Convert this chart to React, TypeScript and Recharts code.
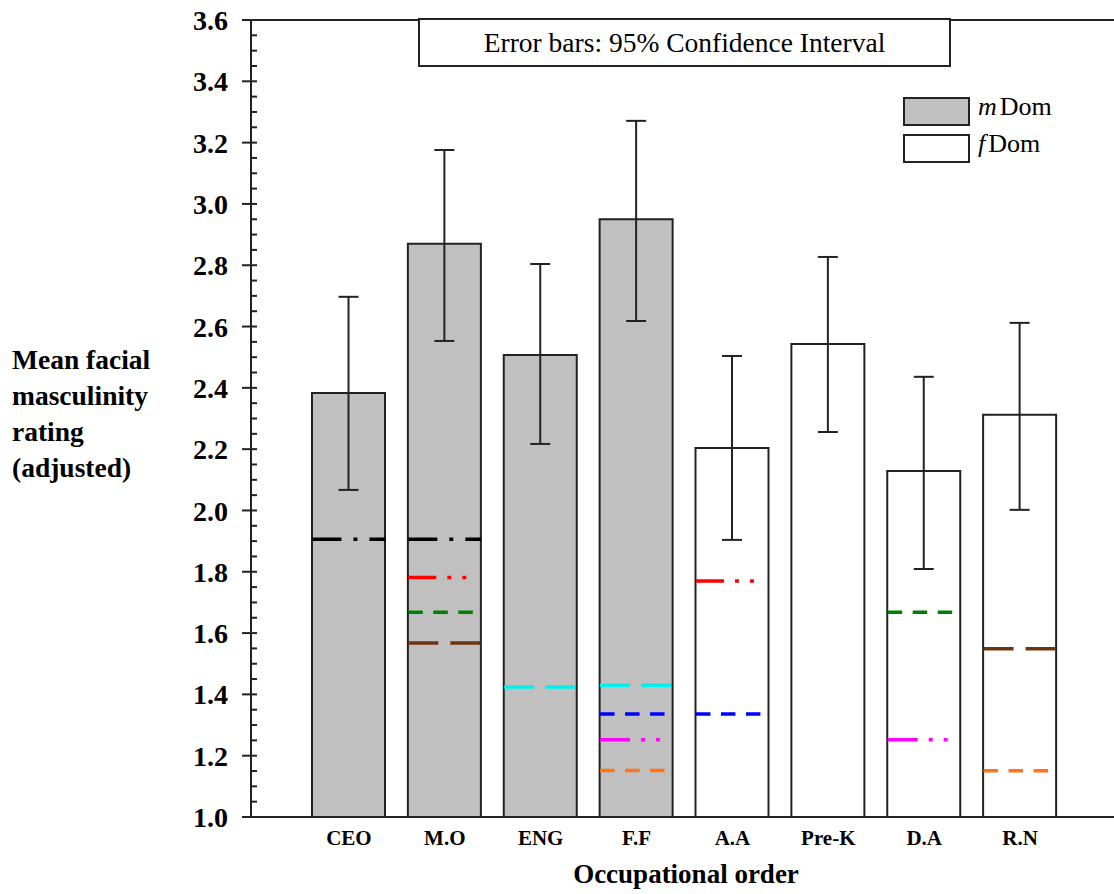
import React from "react";
import {
  Bar,
  Cell,
  ComposedChart,
  ErrorBar,
  ReferenceLine,
  Scatter,
  XAxis,
  YAxis,
} from "recharts";

const categories = ["CEO", "M.O", "ENG", "F.F", "A.A", "Pre-K", "D.A", "R.N"];
const groups = ["m", "m", "m", "m", "f", "f", "f", "f"];
const means = [2.383, 2.87, 2.507, 2.95, 2.204, 2.543, 2.129, 2.312];
const ciLow = [2.067, 2.553, 2.217, 2.618, 1.904, 2.256, 1.809, 2.002];
const ciHigh = [2.697, 3.176, 2.804, 3.271, 2.504, 2.827, 2.436, 2.612];

// horizontal marker lines inside the bars (null = none)
const blackMarks = [1.906, 1.906, null, null, null, null, null, null];
const redMarks = [null, 1.781, null, null, 1.77, null, null, null];
const greenMarks = [null, 1.668, null, null, null, null, 1.668, null];
const brownMarks = [null, 1.568, null, null, null, null, null, 1.549];
const cyanMarks = [null, null, 1.424, 1.43, null, null, null, null];
const blueMarks = [null, null, null, 1.336, 1.336, null, null, null];
const magentaMarks = [null, null, null, 1.252, null, null, 1.252, null];
const orangeMarks = [null, null, null, 1.152, null, null, null, 1.151];

const yTickLabels = ["1.0", "1.2", "1.4", "1.6", "1.8", "2.0", "2.2", "2.4", "2.6", "2.8", "3.0", "3.2", "3.4", "3.6"];

const marks = [
  { key: "black", values: blackMarks, color: "#000000", dash: "29 12 4 12" },
  { key: "red", values: redMarks, color: "#ff0000", dash: "28 11 4 11 4 100" },
  { key: "green", values: greenMarks, color: "#008000", dash: "14.5 10.5" },
  { key: "brown", values: brownMarks, color: "#6e3410", dash: "30 12" },
  { key: "cyan", values: cyanMarks, color: "#00f0f0", dash: "30 11" },
  { key: "blue", values: blueMarks, color: "#0000ff", dash: "14.5 10.5" },
  { key: "magenta", values: magentaMarks, color: "#ff00ff", dash: "30 11 4 11 4 100" },
  { key: "orange", values: orangeMarks, color: "#ff7418", dash: "14.5 10.5" },
];

const data = categories.map((cat, i) => {
  const row: any = {
    cat,
    group: groups[i],
    mean: means[i],
    err: [means[i] - ciLow[i], ciHigh[i] - means[i]],
  };
  marks.forEach((m) => {
    row[m.key] = m.values[i];
  });
  return row;
});

const yTicks: number[] = [];
for (let i = 0; i <= 52; i++) yTicks.push(Math.round((1 + i * 0.05) * 100) / 100);

const SERIF = "'Liberation Serif', 'Times New Roman', serif";
const INK = "#222";
const BAR_W = 73;

function YTick({ x, y, payload }: any) {
  const v = payload.value;
  const label = yTickLabels.find((t) => Math.abs(parseFloat(t) - v) < 1e-6);
  return (
    <g>
      <line x1={label ? x - 9 : x} x2={x + 6} y1={y} y2={y} stroke={INK} strokeWidth={2} />
      {label && (
        <text
          x={x - 23}
          y={y}
          dy="0.36em"
          textAnchor="end"
          fontFamily={SERIF}
          fontWeight="bold"
          fontSize={28}
          fill="#000"
        >
          {label}
        </text>
      )}
    </g>
  );
}

function XTick({ x, y, payload }: any) {
  return (
    <text
      x={x}
      y={y + 28}
      textAnchor="middle"
      fontFamily={SERIF}
      fontWeight="bold"
      fontSize={21}
      fill="#000"
    >
      {payload.value}
    </text>
  );
}

function segShape(key: string, color: string, dash: string) {
  return (props: any) => {
    const { cx, cy, payload } = props;
    if (payload == null || payload[key] == null || !isFinite(cy)) return <g />;
    return (
      <line
        x1={cx - BAR_W / 2}
        x2={cx + BAR_W / 2}
        y1={cy}
        y2={cy}
        stroke={color}
        strokeWidth={3.5}
        strokeDasharray={dash}
      />
    );
  };
}

export default function App() {
  return (
    <div style={{ position: "absolute", left: 0, top: 0, width: 1114, height: 894, background: "#fff" }}>
      <ComposedChart
        width={1114}
        height={894}
        data={data}
        margin={{ top: 20, right: 0, bottom: 0, left: 191 }}
      >
        <XAxis
          dataKey="cat"
          height={77}
          padding={{ left: 50, right: 46 }}
          tickLine={false}
          tickSize={0}
          tickMargin={0}
          interval={0}
          tick={<XTick />}
          axisLine={{ stroke: INK, strokeWidth: 2 }}
        />
        <YAxis
          type="number"
          domain={[1, 3.6]}
          ticks={yTicks}
          interval={0}
          width={60}
          tickLine={false}
          tickSize={0}
          tickMargin={0}
          tick={<YTick />}
          axisLine={{ stroke: INK, strokeWidth: 2 }}
          allowDataOverflow
        />
        <ReferenceLine y={3.6} stroke={INK} strokeWidth={2} />
        <Bar dataKey="mean" barSize={BAR_W} stroke={INK} strokeWidth={2} isAnimationActive={false}>
          {data.map((d) => (
            <Cell key={d.cat} fill={d.group === "m" ? "#c0c0c0" : "#ffffff"} />
          ))}
          <ErrorBar dataKey="err" direction="y" width={10} stroke={INK} strokeWidth={2} />
        </Bar>
        {marks.map((m) => (
          <Scatter
            key={m.key}
            dataKey={m.key}
            isAnimationActive={false}
            shape={segShape(m.key, m.color, m.dash)}
          />
        ))}
      </ComposedChart>

      {/* note box */}
      <div
        style={{
          position: "absolute",
          left: 418,
          top: 18,
          width: 533,
          height: 49,
          boxSizing: "border-box",
          border: `2px solid ${INK}`,
          background: "#fff",
          fontFamily: SERIF,
          fontSize: 27.5,
          lineHeight: "45px",
          textAlign: "center",
          color: "#000",
        }}
      >
        Error bars: 95% Confidence Interval
      </div>

      {/* legend */}
      {[
        { top: 97, fill: "#c0c0c0", letter: "m" },
        { top: 134, fill: "#ffffff", letter: "f" },
      ].map((l) => (
        <div key={l.letter} style={{ position: "absolute", left: 903, top: l.top, height: 29 }}>
          <div
            style={{
              position: "absolute",
              left: 0,
              top: 0,
              width: 67,
              height: 29,
              boxSizing: "border-box",
              border: `2px solid ${INK}`,
              background: l.fill,
            }}
          />
          <div
            style={{
              position: "absolute",
              left: 75,
              top: -5,
              whiteSpace: "nowrap",
              fontFamily: SERIF,
              fontSize: 26,
              color: "#000",
            }}
          >
            <span style={{ fontStyle: "italic", marginRight: 3 }}>{l.letter}</span>Dom
          </div>
        </div>
      ))}

      {/* y axis title */}
      <div
        style={{
          position: "absolute",
          left: 12,
          top: 342,
          fontFamily: SERIF,
          fontWeight: "bold",
          fontSize: 27.5,
          lineHeight: "36px",
          color: "#000",
        }}
      >
        Mean facial
        <br />
        masculinity
        <br />
        rating
        <br />
        (adjusted)
      </div>

      {/* x axis title */}
      <div
        style={{
          position: "absolute",
          left: 486,
          width: 400,
          top: 858,
          textAlign: "center",
          fontFamily: SERIF,
          fontWeight: "bold",
          fontSize: 27,
          lineHeight: "32px",
          color: "#000",
        }}
      >
        Occupational order
      </div>
    </div>
  );
}
